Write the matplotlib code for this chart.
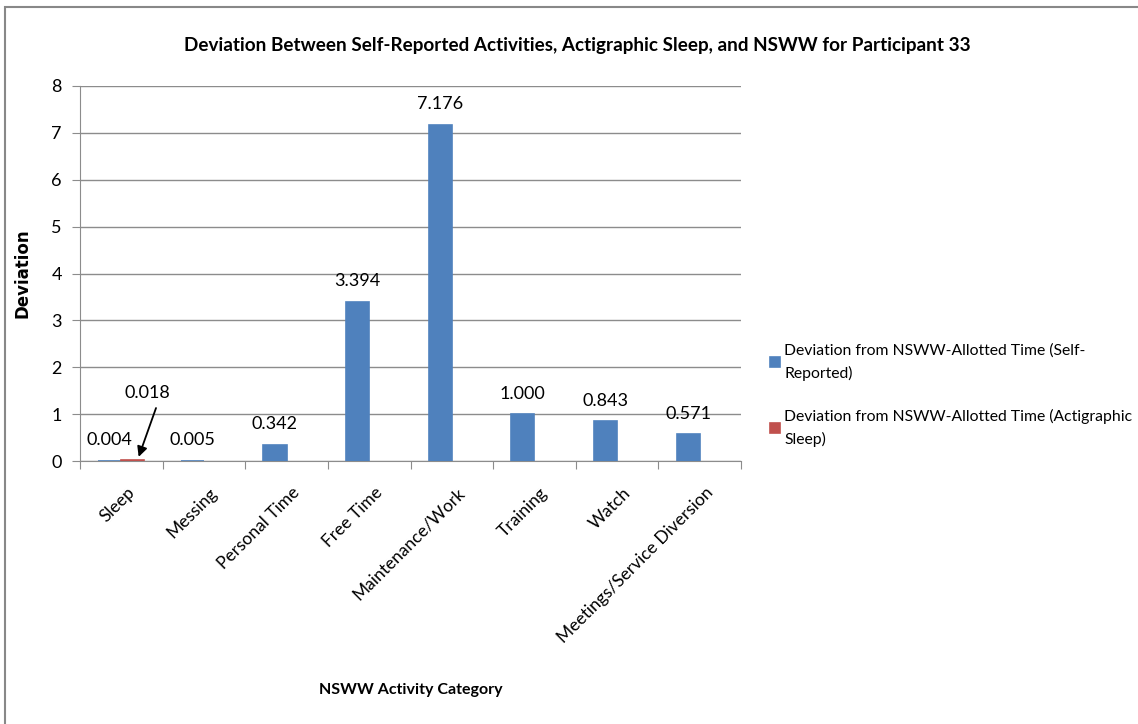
import matplotlib
matplotlib.use("Agg")
import matplotlib.pyplot as plt
import numpy as np
from matplotlib.patches import Rectangle

plt.rcParams['font.family'] = ['Lato', 'DejaVu Sans']

categories = ["Sleep", "Messing", "Personal Time", "Free Time", "Maintenance/Work",
              "Training", "Watch", "Meetings/Service Diversion"]
self_reported = [0.004, 0.005, 0.342, 3.394, 7.176, 1.000, 0.843, 0.571]
actigraphic = [0.018, 0, 0, 0, 0, 0, 0, 0]
series_names = ["Deviation from NSWW-Allotted Time (Self-\nReported)",
                "Deviation from NSWW-Allotted Time (Actigraphic\nSleep)"]
yticks = [0, 1, 2, 3, 4, 5, 6, 7, 8]

blue = "#4F81BD"
red = "#C0504D"

W, H = 1138, 724
fig = plt.figure(figsize=(W / 100, H / 100), dpi=100)
fig.patches.append(Rectangle((5 / W, -0.01), 1.1, 1 - 7 / H + 0.01, transform=fig.transFigure,
                             fill=False, edgecolor="#888888", linewidth=1.5))

ax = fig.add_axes([80 / W, 1 - 461 / H, (741 - 80) / W, (461 - 86) / H])
x = np.arange(len(categories))
bw = 0.28
b1 = ax.bar(x - bw / 2, self_reported, bw, color=blue, edgecolor=blue, linewidth=1.2,
            label=series_names[0], zorder=3)
b2 = ax.bar(x + bw / 2, actigraphic, bw, color=red, edgecolor=red, linewidth=1.2,
            label=series_names[1], zorder=3)
for i in range(1, len(categories)):
    b2[i].set_visible(False)

for xi, v in zip(x, self_reported):
    ax.annotate(f"{v:.3f}", (xi - bw / 2, v), xytext=(0, 9), textcoords="offset points",
                ha="center", va="bottom", fontsize=13)
# label for actigraphic sleep with leader arrow
ax.text(x[0] + 0.32, 1.28, f"{actigraphic[0]:.3f}", ha="center", va="bottom", fontsize=13)
ax.annotate("", xy=(x[0] + bw / 2 + 0.07, actigraphic[0] + 0.07),
            xytext=(x[0] + 0.42, 1.13),
            arrowprops=dict(arrowstyle="-|>", color="black", lw=1.3, mutation_scale=15,
                            shrinkA=0, shrinkB=0))

ax.set_xlim(-0.5, len(categories) - 0.5)
ax.set_ylim(0, 8)
ax.set_yticks(yticks)
ax.set_yticklabels([str(t) for t in yticks], fontsize=13)
ax.grid(axis="y", color="#8C8C8C", linewidth=1, zorder=0)
ax.set_xticks(np.arange(len(categories) + 1) - 0.5, minor=False)
ax.set_xticklabels([])
ax.tick_params(axis="x", length=6, color="#8C8C8C", direction="out")
ax.tick_params(axis="y", length=6, color="#8C8C8C", direction="out", pad=7)
for xi, c in zip(x, categories):
    ax.text(xi + 0.06, -0.5, c, rotation=45, ha="right", va="top", fontsize=12.5,
            rotation_mode="anchor", transform=ax.transData)
for s in ["top", "right"]:
    ax.spines[s].set_visible(False)
ax.spines["left"].set_color("#8C8C8C")
ax.spines["bottom"].set_color("#8C8C8C")

ax.set_ylabel("Deviation", fontsize=12, fontweight="bold", family="DejaVu Sans", labelpad=14)
fig.text(411 / W, 1 - 690 / H, "NSWW Activity Category", ha="center", va="center",
         fontsize=11.5, fontweight="bold")
fig.text(577 / W, 1 - 45 / H, "Deviation Between Self-Reported Activities, Actigraphic Sleep, and NSWW for Participant 33",
         ha="center", va="center", fontsize=13.6, fontweight="bold")

leg = fig.legend(handles=[b1, b2], loc="upper left", bbox_to_anchor=(764 / W, 1 - 337 / H),
                 frameon=False, fontsize=11.3, handlelength=0.65, handleheight=0.65,
                 handletextpad=0.25, labelspacing=1.75, borderaxespad=0)
for t in leg.get_texts():
    t.set_linespacing(1.7)

fig.savefig("out.png", dpi=100)
